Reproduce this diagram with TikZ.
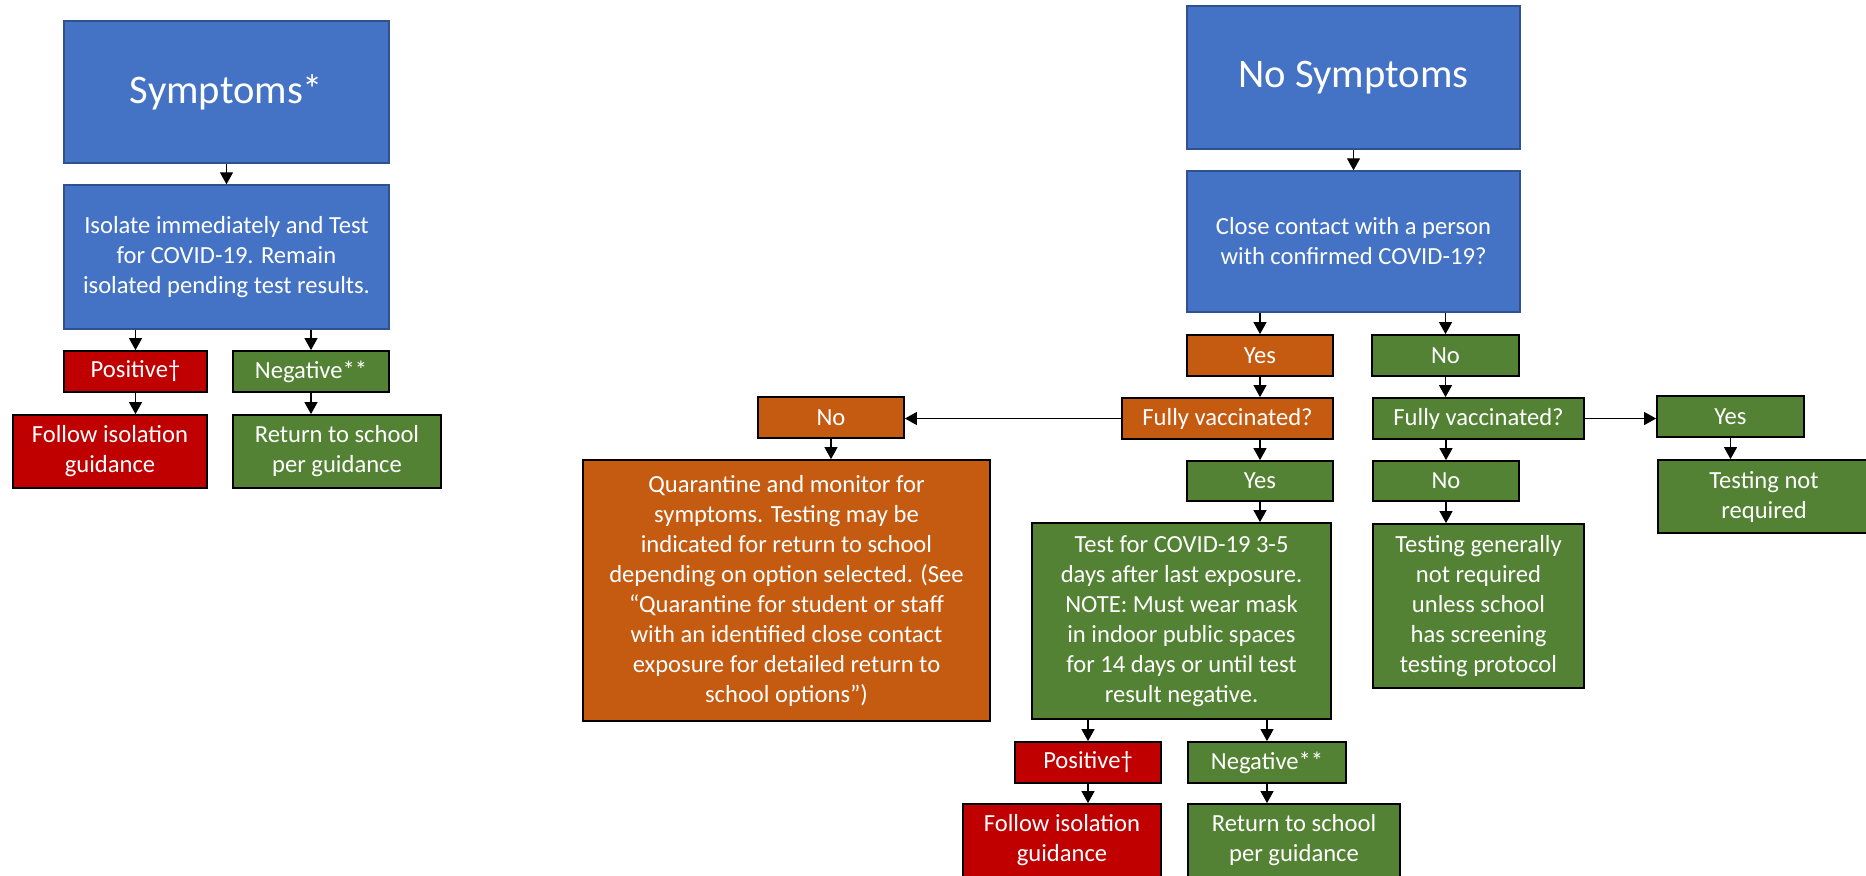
\documentclass[tikz,border=0pt]{standalone}
\usepackage{fontspec}
\setmainfont{Carlito}
\usepackage{xcolor}
\usetikzlibrary{arrows.meta}
\definecolor{boxblue}{HTML}{4472C4}
\definecolor{lineblue}{HTML}{2F528F}
\definecolor{boxgreen}{HTML}{548235}
\definecolor{boxorange}{HTML}{C55A11}
\definecolor{boxred}{HTML}{C00000}

\begin{document}
\begin{tikzpicture}[x=0.5pt,y=-0.5pt,
	every node/.style={text=white,align=center,inner sep=0pt,font=\fontsize{12.3}{15}\selectfont},
	bluebox/.style={fill=boxblue,draw=lineblue,line width=0.7pt},
	greenbox/.style={fill=boxgreen,draw=black,line width=0.9pt},
	orangebox/.style={fill=boxorange,draw=black,line width=0.9pt},
	redbox/.style={fill=boxred,draw=black,line width=0.9pt},
	sz/.style 2 args={minimum width=#1pt,minimum height=#2pt},
	title/.style={font=\fontsize{20.3}{24}\selectfont},
	arr/.style={-{Triangle[length=6pt,width=6.5pt]},line width=0.55pt}]
	\useasboundingbox (0,0) rectangle (1866,875);
	
	% symptoms
	\node[bluebox,sz={162.5}{71},title] (sym) at (226.5,92) {Symptoms*};
	\node[bluebox,sz={162.5}{72}] (iso) at (226.5,257) {Isolate immediately and Test\\for COVID-19. Remain\\isolated pending test results.};
	\node[redbox,sz={71.5}{20.5}] (posA) at (135.5,371.5) {Positive†};
	\node[greenbox,sz={78}{20.5}] (negA) at (311,371.5) {Negative**};
	\node[redbox,sz={97}{36.5}] (folA) at (110,451.5) {Follow isolation\\guidance};
	\node[greenbox,sz={104}{36.5}] (retA) at (337,451.5) {Return to school\\per guidance};
	
	\draw[arr] (sym) -- (iso);
	\draw[arr] (posA.north |- iso.south) -- (posA.north);
	\draw[arr] (negA.north |- iso.south) -- (negA.north);
	\draw[arr] (posA.south) -- (posA.south |- folA.north);
	\draw[arr] (negA.south) -- (negA.south |- retA.north);
	
	% no symptoms
	\node[bluebox,sz={166.5}{71.5},title] (nosym) at (1353.5,77.5) {No Symptoms};
	\node[bluebox,sz={166.5}{70.5}] (close) at (1353.5,241.5) {Close contact with a person\\with confirmed COVID-19?};
	\node[orangebox,sz={73}{20.5}] (yesA) at (1260,355.5) {Yes};
	\node[greenbox,sz={73.5}{20.5}] (noA) at (1445.5,355.5) {No};
	\node[orangebox,sz={105.5}{20.5}] (vacA) at (1227.5,418.5) {Fully vaccinated?};
	\node[greenbox,sz={105.5}{20.5}] (vacB) at (1478.5,418.5) {Fully vaccinated?};
	\node[orangebox,sz={73}{20.5}] (noB) at (831,417.5) {No};
	\node[greenbox,sz={73.5}{20.5}] (yesC) at (1730.5,416.5) {Yes};
	\node[greenbox,sz={73}{20}] (yesB) at (1260,481) {Yes};
	\node[greenbox,sz={73}{20}] (noC) at (1446,481) {No};
	\node[orangebox,sz={203.5}{130.5}] (quar) at (786.5,590.5) {Quarantine and monitor for\\symptoms. Testing may be\\indicated for return to school\\depending on option selected. (See\\“Quarantine for student or staff\\with an identified close contact\\exposure for detailed return to\\school options”)};
	\node[greenbox,sz={149.5}{98}] (test) at (1181.5,621) {Test for COVID-19 3-5\\days after last exposure.\\NOTE: Must wear mask\\in indoor public spaces\\for 14 days or until test\\result negative.};
	\node[greenbox,sz={105.5}{82}] (tgen) at (1478.5,606) {Testing generally\\not required\\unless school\\has screening\\testing protocol};
	\node[greenbox,sz={106}{36.5}] (tnr) at (1764,496.5) {Testing not\\required};
	\node[redbox,sz={73}{20.5}] (posB) at (1088,762.5) {Positive†};
	\node[greenbox,sz={79}{20.5}] (negB) at (1267,762.5) {Negative**};
	\node[redbox,sz={99}{36.5}] (folB) at (1062,840.5) {Follow isolation\\guidance};
	\node[greenbox,sz={106}{36.5}] (retB) at (1294,840.5) {Return to school\\per guidance};
	
	\draw[arr] (nosym) -- (close);
	\draw[arr] (yesA.north |- close.south) -- (yesA.north);
	\draw[arr] (noA.north |- close.south) -- (noA.north);
	\draw[arr] (yesA.south) -- (yesA.south |- vacA.north);
	\draw[arr] (noA.south) -- (noA.south |- vacB.north);
	\draw[arr] (vacA.west) -- (vacA.west -| noB.east);
	\draw[arr] (vacB.east) -- (vacB.east -| yesC.west);
	\draw[arr] (yesB.north |- vacA.south) -- (yesB.north);
	\draw[arr] (noC.north |- vacB.south) -- (noC.north);
	\draw[arr] (noB.south) -- (noB.south |- quar.north);
	\draw[arr] (yesB.south) -- (yesB.south |- test.north);
	\draw[arr] (noC.south) -- (noC.south |- tgen.north);
	\draw[arr] (yesC.south) -- (yesC.south |- tnr.north);
	\draw[arr] (posB.north |- test.south) -- (posB.north);
	\draw[arr] (negB.north |- test.south) -- (negB.north);
	\draw[arr] (posB.south) -- (posB.south |- folB.north);
	\draw[arr] (negB.south) -- (negB.south |- retB.north);
\end{tikzpicture}
\end{document}
